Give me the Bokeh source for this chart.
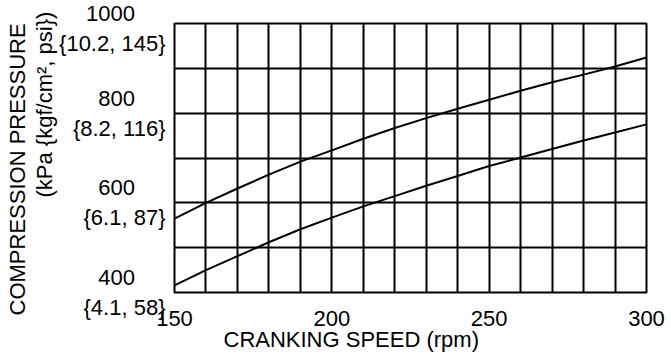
from bokeh.plotting import figure
from bokeh.models import FixedTicker, Label, Range1d, Title
from bokeh.embed import file_html
from bokeh.resources import INLINE

rpm = [150, 160, 170, 180, 190, 200, 210, 220, 230, 240, 250, 260, 270, 280, 290, 300]
curve_a = [565, 600, 632, 663, 692, 717, 743, 767, 789, 810, 830, 850, 869, 886, 904, 924]
curve_b = [416, 450, 481, 512, 541, 567, 592, 615, 638, 660, 682, 701, 720, 739, 757, 775]

x_tick_values = [150, 200, 250, 300]
y_tick_values = [400, 600, 800, 1000]
y_top_labels = ["400", "600", "800", "1000"]
y_sub_labels = ["{4.1, 58}", "{6.1, 87}", "{8.2, 116}", "{10.2, 145}"]
x_grid_values = list(range(150, 301, 10))
y_grid_values = list(range(400, 1001, 100))
series_names = ["A", "B"]
x_title = "CRANKING SPEED (rpm)"
y_title_1 = "COMPRESSION PRESSURE"
y_title_2 = "(kPa {kgf/cm², psi})"

FONT = "Liberation Sans"
FS = "22px"
PAD = "\u00a0" * 5

p = figure(width=671, height=354, output_backend="svg", toolbar_location=None,
           x_range=Range1d(150, 300), y_range=Range1d(400, 1000),
           min_border_left=174, min_border_right=25, min_border_top=23, min_border_bottom=62)

p.outline_line_color = "black"
p.outline_line_width = 2
p.background_fill_color = "white"
p.border_fill_color = "white"

p.xgrid.ticker = FixedTicker(ticks=x_grid_values)
p.ygrid.ticker = FixedTicker(ticks=y_grid_values)
for g in (p.xgrid, p.ygrid):
    g.grid_line_color = "black"
    g.grid_line_width = 2
    g.grid_line_alpha = 1.0

p.xaxis.ticker = FixedTicker(ticks=x_tick_values)
p.yaxis.ticker = FixedTicker(ticks=y_tick_values)
p.yaxis.major_label_overrides = {v: f"{t}{PAD}\n{s}" for v, t, s in zip(y_tick_values, y_top_labels, y_sub_labels)}

for ax in (p.xaxis[0], p.yaxis[0]):
    ax.axis_line_color = None
    ax.major_tick_line_color = None
    ax.minor_tick_line_color = None
    ax.major_tick_out = 0
    ax.major_tick_in = 0
    ax.minor_tick_out = 0
    ax.minor_tick_in = 0
    ax.major_label_text_font = FONT
    ax.major_label_text_font_size = FS
    ax.major_label_text_color = "black"

p.xaxis.major_label_standoff = 18
p.yaxis.major_label_standoff = 9

p.line(rpm, curve_a, line_color="black", line_width=2)
p.line(rpm, curve_b, line_color="black", line_width=2)

for name, ys in zip(series_names, (curve_a, curve_b)):
    p.add_layout(Label(x=rpm[-1], y=ys[-1], text=name, x_offset=6, y_offset=1,
                       text_font=FONT, text_font_size=FS, text_color="black",
                       text_baseline="middle", text_align="left"))

def make_title(text, align, offset, standoff):
    return Title(text=text, align=align, offset=offset, standoff=standoff,
                 text_font=FONT, text_font_size=FS, text_font_style="normal",
                 text_color="black")

p.add_layout(make_title(x_title, "left", 49, -8), "below")
p.add_layout(make_title(y_title_2, "left", 95, 0), "left")
p.add_layout(make_title(y_title_1, "left", -23, 0), "left")

open("out.html", "w").write(file_html(p, INLINE))
